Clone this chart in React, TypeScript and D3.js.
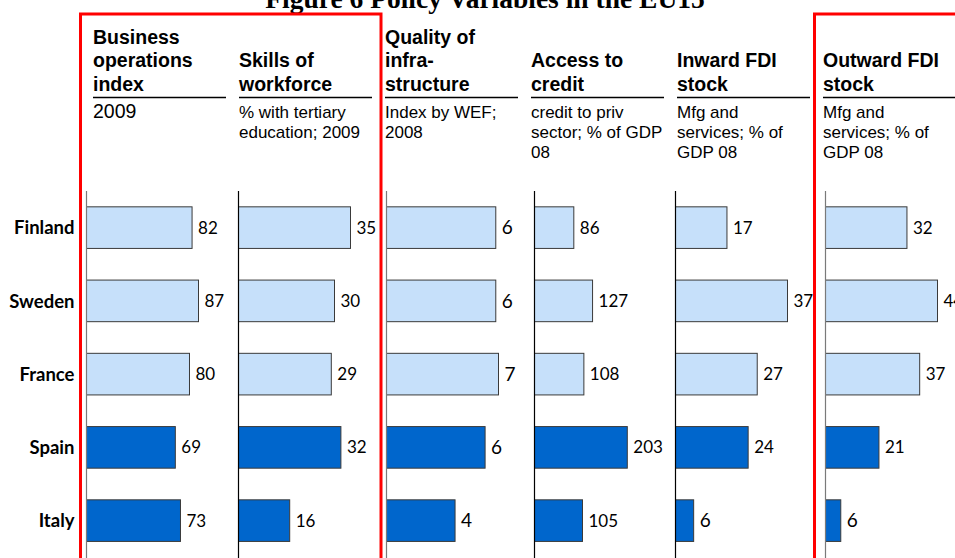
import React from "react";
import * as d3 from "d3";

const countries = ["Finland", "Sweden", "France", "Spain", "Italy"];
const highlighted = ["Spain", "Italy"];

const business = [82, 87, 80, 69, 73];
const skills = [35, 30, 29, 32, 16];
const infrastructure = [6.44, 6.44, 6.6, 5.81, 4.04];
const credit = [86, 127, 108, 203, 105];
const inwardFDI = [17, 37, 27, 24, 6];
const outwardFDI = [32, 44, 37, 21, 6];

const seriesValues = [business, skills, infrastructure, credit, inwardFDI, outwardFDI];
const domainMax = [87, 35, 6.6, 245, 37, 44];

const headers = [
  ["Business", "operations", "index"],
  ["Skills of", "workforce"],
  ["Quality of", "infra-", "structure"],
  ["Access to", "credit"],
  ["Inward FDI", "stock"],
  ["Outward FDI", "stock"],
];
const subtitles = [
  ["2009"],
  ["% with tertiary", "education; 2009"],
  ["Index by WEF;", "2008"],
  ["credit to priv", "sector; % of GDP", "08"],
  ["Mfg and", "services; % of", "GDP 08"],
  ["Mfg and", "services; % of", "GDP 08"],
];
const title = "Figure 6 Policy Variables in the EU15";

// layout constants
const W = 955;
const H = 558;
const colX = [93, 239, 385, 531, 677, 823];
const axisX = [86.5, 238.5, 386.5, 534.5, 675.5, 825.5];
const axisColor = ["#7a7a7a", "#000", "#7a7a7a", "#000", "#000", "#7a7a7a"];
const subtitleSize = [19.5, 17, 17, 17, 17, 17];
const barMaxW = 112;

export default function App() {
  const y = d3
    .scaleBand<string>()
    .domain(countries)
    .range([191, 557.25])
    .paddingInner(0.432)
    .paddingOuter(0.216);
  const fmt = d3.format(".0f");

  return (
    <svg
      width={W}
      height={H}
      style={{ position: "absolute", left: 0, top: 0, background: "#fff" }}
    >
      <text
        x={485}
        y={8}
        textAnchor="middle"
        fontFamily="'Liberation Serif', 'Times New Roman', serif"
        fontWeight="bold"
        fontSize={27.5}
        fill="#000"
      >
        {title}
      </text>

      {headers.map((lines, ci) => (
        <g key={"h" + ci}>
          {lines.map((t, li) => (
            <text
              key={li}
              x={colX[ci]}
              y={90.7 - (lines.length - 1 - li) * 23.5}
              fontFamily="'Liberation Sans', Arial, sans-serif"
              fontWeight="bold"
              fontSize={19.5}
              fill="#000"
            >
              {t}
            </text>
          ))}
          <line
            x1={colX[ci]}
            x2={colX[ci] + 133}
            y1={97.5}
            y2={97.5}
            stroke="#000"
            strokeWidth={1.5}
          />
          {subtitles[ci].map((t, li) => (
            <text
              key={"s" + li}
              x={colX[ci]}
              y={117.8 + li * 20.3}
              fontFamily="'Liberation Sans', Arial, sans-serif"
              fontSize={subtitleSize[ci]}
              fill="#000"
            >
              {t}
            </text>
          ))}
        </g>
      ))}

      {countries.map((c) => (
        <text
          key={"c" + c}
          x={74.5}
          y={(y(c) as number) + y.bandwidth() / 2}
          dy="0.36em"
          textAnchor="end"
          fontFamily="Lato, 'Open Sans', sans-serif"
          fontWeight="bold"
          fontSize={18.5}
          fill="#000"
        >
          {c}
        </text>
      ))}

      {seriesValues.map((vals, ci) => {
        const x = d3.scaleLinear().domain([0, domainMax[ci]]).range([0, barMaxW]);
        const x0 = axisX[ci];
        return (
          <g key={"col" + ci}>
            {vals.map((v, i) => {
              const c = countries[i];
              const label = fmt(v);
              const yy = y(c) as number;
              return (
                <g key={c}>
                  <rect
                    x={x0}
                    y={yy}
                    width={x(v)}
                    height={y.bandwidth()}
                    fill={highlighted.includes(c) ? "#0066CC" : "#C6E0FA"}
                    stroke="#3a3a3a"
                    strokeWidth={1}
                  />
                  <text
                    x={x0 + x(v) + 6}
                    y={yy + y.bandwidth() / 2}
                    dy="0.36em"
                    fontFamily="Lato, 'Open Sans', sans-serif"
                    fontSize={label.length === 1 ? 19 : 17}
                    fill="#000"
                  >
                    {label}
                  </text>
                </g>
              );
            })}
            <line
              x1={x0}
              x2={x0}
              y1={191}
              y2={H}
              stroke={axisColor[ci]}
              strokeWidth={1.2}
            />
          </g>
        );
      })}

      <rect x={80.5} y={14} width={300.5} height={620} fill="none" stroke="#FF0000" strokeWidth={3} />
      <rect x={814.5} y={14} width={300} height={620} fill="none" stroke="#FF0000" strokeWidth={3} />
    </svg>
  );
}
